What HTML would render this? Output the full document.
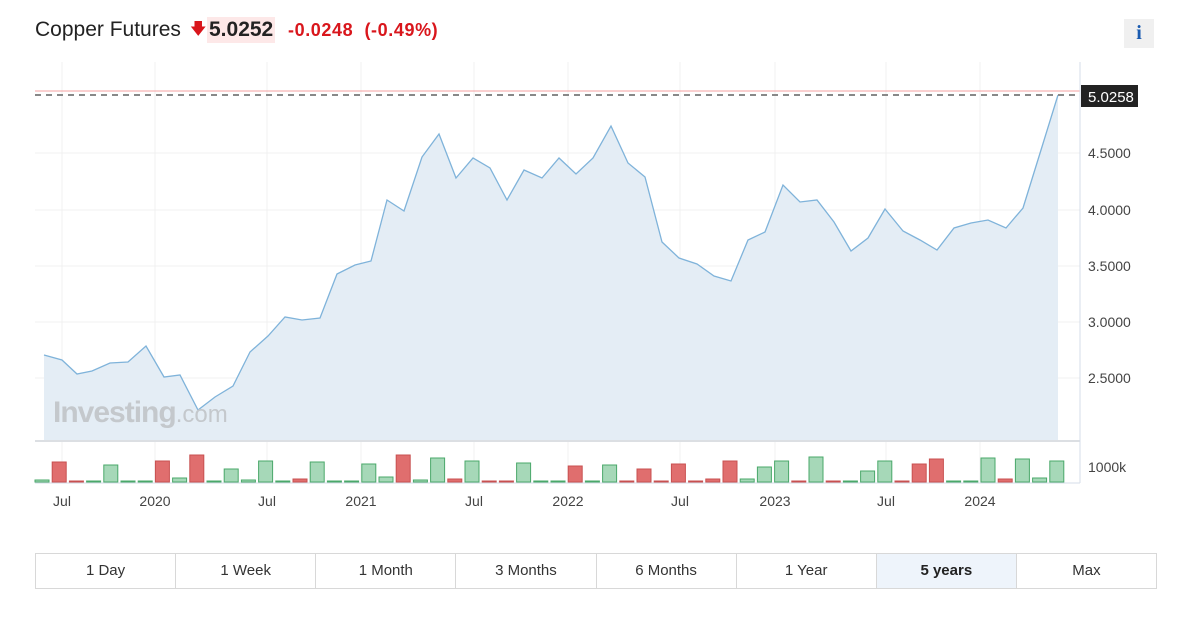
<!DOCTYPE html>
<html><head><meta charset="utf-8"><style>
body{margin:0;width:1188px;height:624px;background:#fff;font-family:"Liberation Sans",sans-serif;position:relative;overflow:hidden}
.t{position:absolute;top:17px;white-space:nowrap;line-height:26px}
.btns{position:absolute;left:35px;top:553px;width:1120px;height:34px;border:1px solid #d8d8d8;display:flex}
.btns div{flex:1;border-right:1px solid #d8d8d8;text-align:center;line-height:34px;font-size:15px;color:#333}
.btns div:last-child{border-right:none}
</style></head><body>
<div class="t" style="left:35px;font-size:21px;color:#222">Copper Futures</div>
<div class="t" style="left:190px;font-size:16px;color:#d9161c">&#129095;</div>
<div class="t" style="left:207px;font-size:21px;font-weight:bold;color:#222;background:#fde8e8;padding:0 2px">5.0252</div>
<div class="t" style="left:288px;font-size:18px;font-weight:bold;color:#d9161c;letter-spacing:0.6px">-0.0248&nbsp; (-0.49%)</div>
<div style="position:absolute;left:1124px;top:19px;width:30px;height:29px;background:#f0f0f0;color:#1a5bb0;font:bold 20px 'Liberation Serif',serif;text-align:center;line-height:29px">i</div>
<svg width="1188" height="624" style="position:absolute;left:0;top:0" xmlns="http://www.w3.org/2000/svg">
<g stroke="#f0f0f0" stroke-width="1">
<line x1="62" y1="62" x2="62" y2="482"/><line x1="155" y1="62" x2="155" y2="482"/><line x1="267" y1="62" x2="267" y2="482"/><line x1="361" y1="62" x2="361" y2="482"/><line x1="474" y1="62" x2="474" y2="482"/><line x1="568" y1="62" x2="568" y2="482"/><line x1="680" y1="62" x2="680" y2="482"/><line x1="775" y1="62" x2="775" y2="482"/><line x1="886" y1="62" x2="886" y2="482"/><line x1="980" y1="62" x2="980" y2="482"/>
<line x1="35" y1="153" x2="1080" y2="153"/><line x1="35" y1="210" x2="1080" y2="210"/><line x1="35" y1="266" x2="1080" y2="266"/><line x1="35" y1="322" x2="1080" y2="322"/><line x1="35" y1="378" x2="1080" y2="378"/>
</g>
<polygon fill="#e4edf5" points="44,440 44,355 62,360 77,374 92,371 110,363 128,362 146,346 164,377 180,375 198,410 215,397 233,386 250,352 268,336 285,317 302,320 320,318 337,274 355,265 371,261 387,200 404,211 422,157 439,134 456,178 473,158 490,168 507,200 524,170 542,178 559,158 576,174 593,158 611,126 628,163 645,177 662,242 679,258 697,264 714,276 731,281 748,240 765,232 783,185 800,202 817,200 834,222 851,251 868,238 885,209 903,231 920,240 937,250 954,228 971,223 988,220 1006,228 1023,208 1041,150 1058,95 1058,440"/>
<polyline fill="none" stroke="#7fb3da" stroke-width="1.3" points="44,355 62,360 77,374 92,371 110,363 128,362 146,346 164,377 180,375 198,410 215,397 233,386 250,352 268,336 285,317 302,320 320,318 337,274 355,265 371,261 387,200 404,211 422,157 439,134 456,178 473,158 490,168 507,200 524,170 542,178 559,158 576,174 593,158 611,126 628,163 645,177 662,242 679,258 697,264 714,276 731,281 748,240 765,232 783,185 800,202 817,200 834,222 851,251 868,238 885,209 903,231 920,240 937,250 954,228 971,223 988,220 1006,228 1023,208 1041,150 1058,95"/>
<text x="53" y="422" font-size="30" font-weight="bold" fill="#c4c8cc" font-family="Liberation Sans" letter-spacing="-1">Investing<tspan font-weight="normal" font-size="24" letter-spacing="0">.com</tspan></text>
<line x1="35" y1="91" x2="1080" y2="91" stroke="#f5a0a0" stroke-width="1"/>
<line x1="35" y1="95" x2="1080" y2="95" stroke="#888" stroke-width="2" stroke-dasharray="6,5"/>
<line x1="35" y1="441" x2="1080" y2="441" stroke="#dcdfe3" stroke-width="2"/>
<line x1="1080" y1="62" x2="1080" y2="483" stroke="#d5dde8"/>
<line x1="35" y1="483" x2="1080" y2="483" stroke="#d5dde8"/>
<rect x="1081" y="85" width="57" height="22" fill="#222"/>
<text x="1088" y="102" font-size="15" fill="#fff">5.0258</text>
<g font-size="14" fill="#444"><text x="1088" y="158">4.5000</text><text x="1088" y="215">4.0000</text><text x="1088" y="271">3.5000</text><text x="1088" y="327">3.0000</text><text x="1088" y="383">2.5000</text><text x="1088" y="472">1000k</text></g>
<g font-size="14" fill="#444" text-anchor="middle"><text x="62" y="506">Jul</text><text x="155" y="506">2020</text><text x="267" y="506">Jul</text><text x="361" y="506">2021</text><text x="474" y="506">Jul</text><text x="568" y="506">2022</text><text x="680" y="506">Jul</text><text x="775" y="506">2023</text><text x="886" y="506">Jul</text><text x="980" y="506">2024</text></g>
<g id="vol"></g>
</svg>
<script>
var d=[["g",2],["r",20],["r",1],["g",1],["g",17],["g",1],["g",1],["r",21],["g",4],["r",27],["g",1],["g",13],["g",2],["g",21],["g",1],["r",3],["g",20],["g",1],["g",1],["g",18],["g",5],["r",27],["g",2],["g",24],["r",3],["g",21],["r",1],["r",1],["g",19],["g",1],["g",1],["r",16],["g",1],
["g",17],["r",1],["r",13],["r",1],["r",18],["r",1],["r",3],["r",21],["g",3],["g",15],["g",21],["r",1],["g",25],["r",1],["g",1],["g",11],["g",21],["r",1],["r",18],["r",23],["g",1],["g",1],["g",24],["r",3],["g",23],["g",4],["g",21]];
var s="";d.forEach(function(b,i){var x=35+i*17.2,h=b[1];var f=b[0]=="g"?"#a6d8b8":"#e06e6e",st=b[0]=="g"?"#4aa86a":"#c85050";
s+='<rect x="'+x.toFixed(1)+'" y="'+(482-h)+'" width="14" height="'+h+'" fill="'+f+'" stroke="'+st+'" stroke-width="1"/>';});
document.getElementById("vol").innerHTML=s;
</script>
<div class="btns"><div>1 Day</div><div>1 Week</div><div>1 Month</div><div>3 Months</div><div>6 Months</div><div>1 Year</div><div style="background:#eef4fb;font-weight:bold;color:#222">5 years</div><div>Max</div></div>
</body></html>
